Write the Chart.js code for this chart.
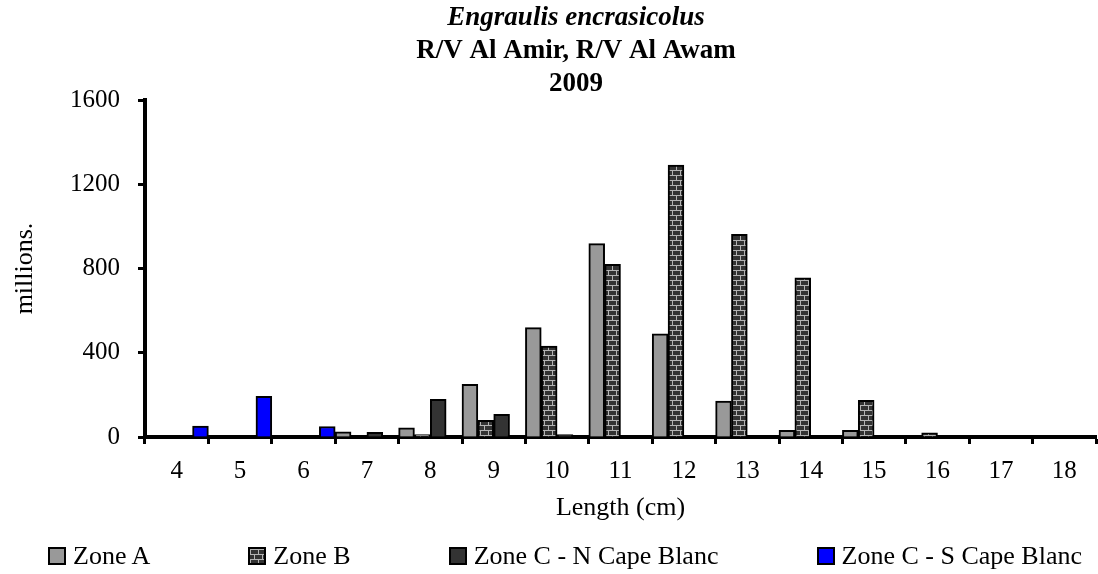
<!DOCTYPE html>
<html>
<head>
<meta charset="utf-8">
<script src="https://cdn.jsdelivr.net/npm/chart.js@4.4.0/dist/chart.umd.min.js"></script>
<style>
  html, body { margin: 0; padding: 0; background: #fff; }
  #wrap { position: relative; width: 1098px; height: 574px; }
  #legend { position: absolute; left: 48px; top: 541px; width: 1034px; display: flex; justify-content: space-between; align-items: center; font: 26px 'Liberation Serif', 'Times New Roman', serif; line-height: 30px; color: #000; }
  .item { display: flex; align-items: center; white-space: nowrap; }
  .swatch { width: 14px; height: 14px; border: 2px solid #000; margin-right: 7px; }
</style>
</head>
<body>
<div id="wrap">
  <canvas id="chart" width="1098" height="574"></canvas>
  <div id="legend"></div>
</div>
<script>
const lengths = ['4', '5', '6', '7', '8', '9', '10', '11', '12', '13', '14', '15', '16', '17', '18'];
const zoneA = [0, 0, 0, 25, 44, 250, 519, 918, 490, 171, 32, 32, 0, 0, 0];
const zoneB = [0, 0, 0, 0, 12, 79, 432, 820, 1291, 962, 756, 174, 20, 0, 0];
const zoneCN = [0, 0, 0, 22, 179, 108, 12, 0, 0, 0, 0, 0, 0, 0, 0];
const zoneCS = [52, 193, 50, 0, 0, 0, 0, 0, 0, 0, 0, 0, 0, 0, 0];
const seriesNames = ['Zone A', 'Zone B', 'Zone C - N Cape Blanc', 'Zone C - S Cape Blanc'];

const serif = "'Liberation Serif', 'Times New Roman', serif";

// brick fill used by Excel for Zone B
function brickTile() {
  const c = document.createElement('canvas');
  c.width = 8; c.height = 10;
  const g = c.getContext('2d');
  g.fillStyle = '#333333';
  g.fillRect(0, 0, 8, 10);
  g.fillStyle = '#b4b4b4';
  g.fillRect(0, 0, 8, 1);
  g.fillRect(0, 0, 1, 5);
  g.fillRect(0, 5, 8, 1);
  g.fillRect(4, 5, 1, 5);
  return c;
}

const tile = brickTile();
const ctx = document.getElementById('chart').getContext('2d');
const brick = ctx.createPattern(tile, 'repeat');

const chart = new Chart(ctx, {
  type: 'bar',
  data: {
    labels: lengths,
    datasets: [
      { label: seriesNames[0], data: zoneA, backgroundColor: '#999999' },
      { label: seriesNames[1], data: zoneB, backgroundColor: brick },
      { label: seriesNames[2], data: zoneCN, backgroundColor: '#333333' },
      { label: seriesNames[3], data: zoneCS, backgroundColor: '#0000ff' }
    ].map(d => Object.assign(d, { borderColor: '#000', borderWidth: 2, categoryPercentage: 1, barPercentage: 1 }))
  },
  options: {
    responsive: false,
    animation: false,
    devicePixelRatio: 1,
    // left padding pulls the title centre to where Excel had it
    layout: { padding: { left: 56, right: 2, top: 0, bottom: 50 } },
    plugins: {
      legend: { display: false },
      tooltip: { enabled: false },
      title: {
        display: true,
        text: 'Engraulis encrasicolus',
        color: '#000',
        font: { family: serif, size: 27, weight: 'bold', style: 'italic', lineHeight: 1.21 },
        padding: { top: 2, bottom: 0 }
      },
      subtitle: {
        display: true,
        text: ['R/V Al Amir, R/V Al Awam', '2009'],
        color: '#000',
        font: { family: serif, size: 27, weight: 'bold', lineHeight: 1.21 },
        padding: { top: 0, bottom: 0 }
      }
    },
    scales: {
      x: {
        offset: true,
        grid: { display: true, offset: true, drawOnChartArea: false, drawTicks: true, tickLength: 7, tickWidth: 3, tickColor: '#000' },
        border: { display: true, color: '#000', width: 4 },
        ticks: { color: '#000', font: { family: serif, size: 25 }, padding: 12, maxRotation: 0, autoSkip: false },
        title: { display: true, text: 'Length (cm)', color: '#000', font: { family: serif, size: 26 }, padding: { top: 0, bottom: 0 } },
        afterFit: s => { s.height = 87; }
      },
      y: {
        min: 0,
        max: 1600,
        grid: { display: true, drawOnChartArea: false, drawTicks: true, tickLength: 7, tickWidth: 3, tickColor: '#000' },
        border: { display: true, color: '#000', width: 4 },
        ticks: { stepSize: 400, color: '#000', font: { family: serif, size: 25 }, padding: 18, callback: v => String(v) },
        title: { display: true, text: 'millions.', color: '#000', font: { family: serif, size: 26 }, padding: { top: -46 } },
        afterFit: s => { s.width = 89; }
      }
    }
  }
});

// html legend, spaced like the Excel one
const legend = document.getElementById('legend');
chart.data.datasets.forEach(ds => {
  const item = document.createElement('span');
  item.className = 'item';
  const sw = document.createElement('span');
  sw.className = 'swatch';
  if (ds.backgroundColor instanceof CanvasPattern) {
    sw.style.backgroundImage = `url(${tile.toDataURL()})`;
  } else {
    sw.style.background = ds.backgroundColor;
  }
  item.appendChild(sw);
  item.appendChild(document.createTextNode(ds.label));
  legend.appendChild(item);
});
</script>
</body>
</html>
